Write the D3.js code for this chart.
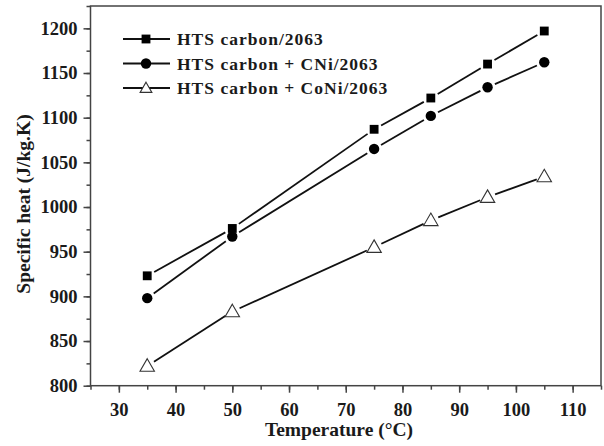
<!DOCTYPE html>
<html>
<head>
<meta charset="utf-8">
<script src="https://cdn.jsdelivr.net/npm/d3@7"></script>
<style>
  body { margin: 0; background: #fff; }
  svg text { font-family: "Times New Roman", Times, "Liberation Serif", Tinos, serif; font-weight: bold; fill: #1a1a1a; }
</style>
</head>
<body>
<div id="chart"></div>
<script>
var width = 604;
var height = 446;

// data
var temps = [35, 50, 75, 85, 95, 105];
var htsCarbon = [923, 976, 1087, 1122, 1160, 1197];
var htsCNi = [898, 967, 1065, 1102, 1134, 1162];
var htsCoNi = [822, 883, 955, 985, 1011, 1034];
var seriesNames = ["HTS carbon/2063", "HTS carbon + CNi/2063", "HTS carbon + CoNi/2063"];
var seriesShapes = ["square", "circle", "triangle"];
var xTicks = [30, 40, 50, 60, 70, 80, 90, 100, 110];
var yTicks = [800, 850, 900, 950, 1000, 1050, 1100, 1150, 1200];

var series = [htsCarbon, htsCNi, htsCoNi].map(function(vals, i){
    return {
        name: seriesNames[i],
        shape: seriesShapes[i],
        points: vals.map(function(v, j){ return { t: temps[j], v: v }; })
    };
});

var x = d3.scaleLinear().domain([25, 115]).range([90.5, 601]);
var y = d3.scaleLinear().domain([800, 1225]).range([385.7, 6]);

var svg = d3.select("#chart")
    .append("svg")
    .attr("width", width)
    .attr("height", height);

var frameColor = "#444";
var fontFam = "'Times New Roman', Times, 'Liberation Serif', Tinos, serif";

// minor ticks
svg.append("g")
    .attr("transform", "translate(0," + y(800) + ")")
    .call(d3.axisBottom(x).tickValues(d3.range(25, 116, 5)).tickSize(4).tickFormat(""))
    .call(function(g){ g.select(".domain").remove(); })
    .selectAll("line").attr("stroke", frameColor).attr("stroke-width", 1.5);

svg.append("g")
    .attr("transform", "translate(" + x(25) + ",0)")
    .call(d3.axisLeft(y).tickValues(d3.range(800, 1226, 25)).tickSize(4).tickFormat(""))
    .call(function(g){ g.select(".domain").remove(); })
    .selectAll("line").attr("stroke", frameColor).attr("stroke-width", 1.5);

// major ticks + labels
var xAxis = svg.append("g")
    .attr("transform", "translate(0," + y(800) + ")")
    .call(d3.axisBottom(x).tickValues(xTicks).tickSize(7).tickPadding(10).tickFormat(d3.format("d")));
xAxis.attr("font-family", fontFam);
xAxis.select(".domain").remove();
xAxis.selectAll("line").attr("stroke", frameColor).attr("stroke-width", 1.5);
xAxis.selectAll("text")
    .style("font-size", "18.5px")
    .attr("fill", "#1a1a1a");

var yAxis = svg.append("g")
    .attr("transform", "translate(" + x(25) + ",0)")
    .call(d3.axisLeft(y).tickValues(yTicks).tickSize(7).tickPadding(6).tickFormat(d3.format("d")));
yAxis.attr("font-family", fontFam);
yAxis.select(".domain").remove();
yAxis.selectAll("line").attr("stroke", frameColor).attr("stroke-width", 1.5);
yAxis.selectAll("text")
    .style("font-size", "18.5px")
    .attr("fill", "#1a1a1a");

// frame
svg.append("rect")
    .attr("x", x(25))
    .attr("y", y(1225))
    .attr("width", x(115) - x(25))
    .attr("height", y(800) - y(1225))
    .attr("fill", "none")
    .attr("stroke", frameColor)
    .attr("stroke-width", 1.5);

// axis titles
svg.append("text")
    .attr("x", 339)
    .attr("y", 436)
    .attr("text-anchor", "middle")
    .style("font-size", "19.5px")
    .text("Temperature (°C)");

svg.append("text")
    .attr("transform", "translate(30," + 204 + ") rotate(-90)")
    .attr("text-anchor", "middle")
    .style("font-size", "19.5px")
    .text("Specific heat (J/kg.K)");

// markers
var symSquare = d3.symbol().type(d3.symbolSquare).size(78);
var symCircle = d3.symbol().type(d3.symbolCircle).size(85);
var symTriangle = d3.symbol().type(d3.symbolTriangle).size(90);
var symTriangleSmall = d3.symbol().type(d3.symbolTriangle).size(60);

function drawMarker(g, shape, px, py, small){
    if (shape === "square") {
        g.append("path").attr("d", symSquare()).attr("transform", "translate(" + px + "," + py + ")")
            .attr("fill", "#000");
    } else if (shape === "circle") {
        g.append("path").attr("d", symCircle()).attr("transform", "translate(" + px + "," + py + ")")
            .attr("fill", "#000");
    } else {
        g.append("path").attr("d", small ? symTriangleSmall() : symTriangle())
            .attr("transform", "translate(" + px + "," + (py + 1) + ")")
            .attr("fill", "#fff").attr("stroke", "#333").attr("stroke-width", 1.1);
    }
}

// lines with a gap at each marker
var gap = 8;
series.forEach(function(s){
    var g = svg.append("g");
    var pts = s.points.map(function(p){ return [x(p.t), y(p.v)]; });
    for (var i = 0; i < pts.length - 1; i++) {
        var a = pts[i], b = pts[i + 1];
        var dx = b[0] - a[0], dy = b[1] - a[1];
        var len = Math.sqrt(dx * dx + dy * dy);
        var ux = dx / len, uy = dy / len;
        g.append("line")
            .attr("x1", a[0] + ux * gap).attr("y1", a[1] + uy * gap)
            .attr("x2", b[0] - ux * gap).attr("y2", b[1] - uy * gap)
            .attr("stroke", "#111")
            .attr("stroke-width", 1.8);
    }
    pts.forEach(function(p){ drawMarker(g, s.shape, p[0], p[1], false); });
});

// legend
var legend = svg.append("g").attr("id", "legend");
series.forEach(function(s, i){
    var ly = 39 + i * 24.5;
    legend.append("line")
        .attr("x1", 123).attr("x2", 170)
        .attr("y1", ly).attr("y2", ly)
        .attr("stroke", "#111")
        .attr("stroke-width", 1.8);
    drawMarker(legend, s.shape, 146, ly, true);
    legend.append("text")
        .attr("x", 177)
        .attr("y", ly + 6)
        .style("font-size", "17.5px")
        .style("letter-spacing", "1px")
        .text(s.name);
});
</script>
</body>
</html>
